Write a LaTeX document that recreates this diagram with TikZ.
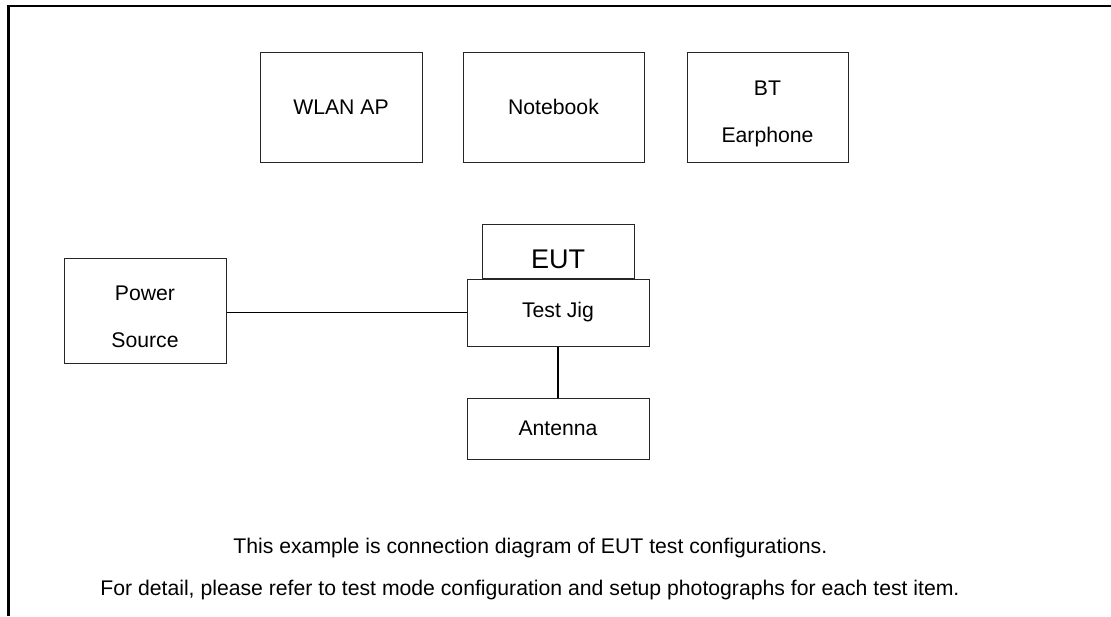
\documentclass[tikz,border=0pt]{standalone}
\usepackage{fontspec}
\setmainfont{Liberation Sans}
\usetikzlibrary{positioning}

\begin{document}
\begin{tikzpicture}[x=0.5pt,y=-0.5pt,
  unit/.style={draw=black!85,line width=0.5pt,minimum width=81pt,minimum height=55pt,inner sep=0pt,align=center,font=\fontsize{10.6}{23.5}\selectfont},
  link/.style={draw=black,line width=0.75pt},
  note/.style={font=\fontsize{10.6}{12}\selectfont,inner sep=0pt,anchor=west}]
\useasboundingbox (0,0) rectangle (1111,616);
\draw[line width=1.25pt] (8.5,616) -- (8.5,6) -- (1111,6);
% devices on top
\node[unit] (wlan) at (341,107) {WLAN AP};
\node[unit,minimum width=90.5pt] (notebook) at (553.5,107) {Notebook};
\node[unit,minimum width=80.5pt] (bt) at (767.5,107) {\rule{0pt}{14.6pt}BT\\Earphone};
% test setup
\node[unit,minimum width=91pt,minimum height=33.5pt] (jig) at (558,312.5) {Test Jig};
\node[unit,minimum width=76pt,minimum height=27pt,font=\fontsize{13.5}{16}\selectfont,text height=17.5pt,text depth=0pt,above=0pt of jig] (eut) {EUT};
\node[unit,minimum width=91pt,minimum height=30.5pt,below=25.5pt of jig] (antenna) {Antenna};
\node[unit,minimum height=52.5pt] (power) at (145,310.5) {\rule{0pt}{14pt}Power\\Source};
\draw[link] (jig.west) -- (power.east |- jig.west);
\draw[link] (jig) -- (antenna);
% remarks
\node[note] (remark1) at (233,548) {This example is connection diagram of EUT test configurations.};
\node[note] (remark2) at (100,590) {For detail, please refer to test mode configuration and setup photographs for each test item.};
\end{tikzpicture}
\end{document}
